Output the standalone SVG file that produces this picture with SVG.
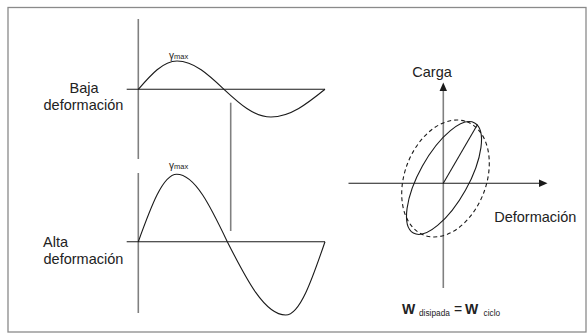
<svg xmlns="http://www.w3.org/2000/svg" width="588" height="333" viewBox="0 0 588 333">
  <style>
    .t { font-family: "Liberation Sans", Arial, sans-serif; fill: #222; }
    .lbl { font-size: 14.5px; }
    .curve { fill: none; stroke: #1a1a1a; stroke-width: 1.1; }
    .axis { fill: none; stroke: #1a1a1a; stroke-width: 1.1; }
    .grey { fill: none; stroke: #808080; stroke-width: 1.6; }
    .dash { fill: none; stroke: #1a1a1a; stroke-width: 1.1; stroke-dasharray: 4 3; }
  </style>
  <rect x="0" y="0" width="588" height="333" fill="#ffffff"/>
  <rect id="frame" x="8" y="7.5" width="578" height="324.5" fill="none" stroke="#8a8a8a" stroke-width="1.3"/>

  <g id="baja">
    <text class="t lbl" x="84" y="92.7" text-anchor="middle">Baja</text>
    <text class="t lbl" x="43.5" y="110">deformación</text>
    <line class="grey" x1="138.3" y1="19" x2="138.3" y2="159"/>
    <line class="axis" x1="126.7" y1="89.3" x2="325" y2="89.3"/>
    <path class="curve" d="M138.3,89.3 C150.9,74.8 163,61 177,61 C194,61 208.7,74.8 224,89.3 C239.3,103.5 254,117 271,117 C290.5,117 307.4,103.5 325,89.3"/>
    <text class="t" x="169" y="58.5" font-size="10">γ<tspan font-size="7.5">max</tspan></text>
  </g>

  <line id="mid-line" class="grey" x1="230.7" y1="102.7" x2="230.7" y2="231"/>

  <g id="alta">
    <text class="t lbl" x="43" y="246.5">Alta</text>
    <text class="t lbl" x="43.5" y="264">deformación</text>
    <line class="grey" x1="138.3" y1="173" x2="138.3" y2="313"/>
    <line class="axis" x1="126.7" y1="241.7" x2="325" y2="241.7"/>
    <path class="curve" d="M138.3,241.7 C150.8,207.2 162.8,174.3 176.7,174.3 C195,174.3 210.8,207.2 227.3,241.7 C246.3,279.2 264.6,315 285.7,315 C299.9,315 312.2,279.2 325,241.7"/>
    <text class="t" x="169" y="169" font-size="10">γ<tspan font-size="7.5">max</tspan></text>
  </g>

  <g id="hysteresis">
    <line class="grey" x1="443.3" y1="90" x2="443.3" y2="288"/>
    <polygon points="443.3,82.5 439.6,91 447,91" fill="#1a1a1a"/>
    <line class="axis" x1="348.5" y1="183.3" x2="540" y2="183.3"/>
    <polygon points="547.5,183.3 539,179.5 539,187.1" fill="#1a1a1a"/>
    <ellipse class="dash" cx="445.5" cy="178.5" rx="60.6" ry="40.8" transform="rotate(-69.2 445.5 178.5)"/>
    <ellipse class="curve" cx="444" cy="178" rx="63" ry="24.7" transform="rotate(-60.9 444 178)"/>
    <line class="curve" x1="443.3" y1="183.3" x2="477.5" y2="124.5"/>
    <text class="t lbl" x="412.3" y="77.3">Carga</text>
    <text class="t lbl" x="494.2" y="222.3">Deformación</text>
  </g>

  <g id="formula">
    <text class="t" x="402" y="314" font-size="14" font-weight="bold">W</text>
    <text class="t" x="419" y="316" font-size="8.3">disipada</text>
    <text class="t" x="454" y="314" font-size="14">=</text>
    <text class="t" x="465" y="314" font-size="14" font-weight="bold">W</text>
    <text class="t" x="483.5" y="316" font-size="8.3">ciclo</text>
  </g>
</svg>
